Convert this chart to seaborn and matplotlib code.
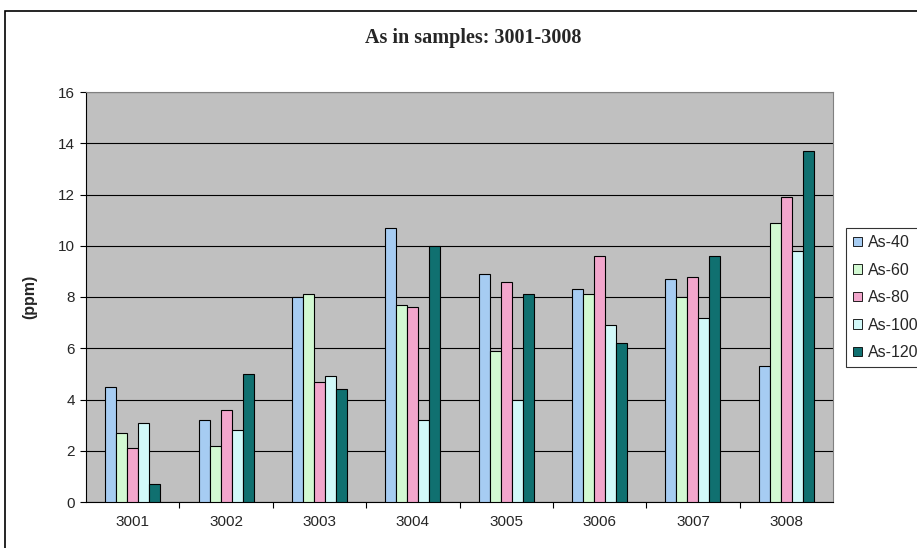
import matplotlib
matplotlib.use("Agg")
import matplotlib.pyplot as plt
import seaborn as sns
import pandas as pd
from matplotlib.patches import Rectangle

# data
samples = ["3001", "3002", "3003", "3004", "3005", "3006", "3007", "3008"]
series = ["As-40", "As-60", "As-80", "As-100", "As-120"]
as_40 = [4.5, 3.2, 8.0, 10.7, 8.9, 8.3, 8.7, 5.3]
as_60 = [2.7, 2.2, 8.1, 7.7, 5.9, 8.1, 8.0, 10.9]
as_80 = [2.1, 3.6, 4.7, 7.6, 8.6, 9.6, 8.8, 11.9]
as_100 = [3.1, 2.8, 4.9, 3.2, 4.0, 6.9, 7.2, 9.8]
as_120 = [0.7, 5.0, 4.4, 10.0, 8.1, 6.2, 9.6, 13.7]
colors = ["#99CCFF", "#CCFFCC", "#FF99CC", "#CCFFFF", "#008080"]

rows = []
for name, vals in zip(series, [as_40, as_60, as_80, as_100, as_120]):
    for s, v in zip(samples, vals):
        rows.append({"sample": s, "series": name, "ppm": v})
df = pd.DataFrame(rows)

sns.set_style("white")
plt.rcParams["font.family"] = ["Liberation Sans", "DejaVu Sans"]

fig = plt.figure(figsize=(9.17, 5.48), dpi=100)
ax = fig.add_axes([86 / 917, 1 - 502 / 548, 747 / 917, 410 / 548])

sns.barplot(data=df, x="sample", y="ppm", hue="series", order=samples,
            hue_order=series, palette=colors, width=0.59,
            edgecolor="black", linewidth=0.8, ax=ax, zorder=3)

ax.set_facecolor("#C0C0C0")
ax.set_ylim(0, 16)
ax.set_xlim(-0.5, len(samples) - 0.5)
ax.set_yticks(range(0, 17, 2))
ax.yaxis.grid(True, color="black", linewidth=0.8)
ax.set_axisbelow(True)
for sp in ["top", "right"]:
    ax.spines[sp].set_color("#808080")
for sp in ["left", "bottom"]:
    ax.spines[sp].set_color("black")
ax.tick_params(axis="y", which="major", direction="out", length=4,
               width=0.8, color="black", labelsize=11, pad=4, left=True)
ax.tick_params(axis="x", which="major", length=0, labelsize=11, pad=9)
ax.set_xticks([i + 0.5 for i in range(len(samples) - 1)], minor=True)
ax.tick_params(axis="x", which="minor", direction="out", length=4,
               width=0.8, color="black", bottom=True)

ax.set_xlabel("")
ax.set_ylabel("(ppm)", fontsize=11.5, fontweight="bold")
ax.yaxis.set_label_coords(-49 / 747, 0.5)

fig.text(473 / 917, 1 - 38 / 548, "As in samples: 3001-3008",
         ha="center", va="center", fontsize=14.5, fontweight="bold",
         family=["Liberation Serif", "DejaVu Serif"])

leg = ax.legend(loc="upper left", bbox_to_anchor=(846 / 917, 1 - 228 / 548),
                bbox_transform=fig.transFigure, frameon=True, fancybox=False,
                fontsize=11.5, handlelength=0.55, handleheight=0.55,
                handletextpad=0.4, labelspacing=0.78, borderpad=0.45,
                borderaxespad=0)
leg.get_frame().set_edgecolor("black")
leg.get_frame().set_linewidth(0.8)
for h in leg.legend_handles:
    h.set_edgecolor("black")
    h.set_linewidth(0.6)

# outer chart border
fig.patches.append(Rectangle((5 / 917, -0.05), 1.2, 1 - 11 / 548 + 0.05,
                             transform=fig.transFigure, fill=False,
                             edgecolor="black", linewidth=1.2))

fig.savefig("out.png", dpi=100)
